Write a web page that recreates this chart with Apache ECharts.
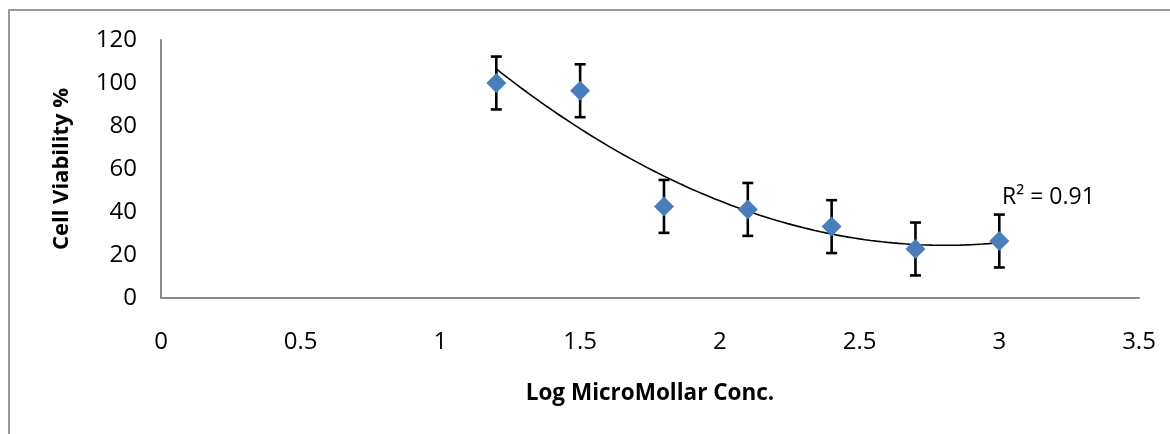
<!DOCTYPE html>
<html>
<head>
<meta charset="utf-8">
<script src="https://cdn.jsdelivr.net/npm/echarts@6/dist/echarts.min.js"></script>
<style>
  html, body { margin: 0; padding: 0; background: #fff; }
  #chart { width: 1170px; height: 434px; }
</style>
</head>
<body>
<div id="chart"></div>
<script>
// Log concentration (µM) and measured cell viability with ± error
const logConc   = [1.2, 1.5, 1.8, 2.1, 2.4, 2.7, 3.0];
const viability = [100, 96.4, 42.6, 41.2, 33.2, 22.8, 26.5];
const errorPM   = [12.3, 12.3, 12.3, 12.3, 12.3, 12.3, 12.3];
const xTicks = { min: 0, max: 3.5, interval: 0.5 };
const yTicks = { min: 0, max: 120, interval: 20 };
const xTitle = 'Log MicroMollar Conc.';
const yTitle = 'Cell Viability %';
const r2Label = 'R² = 0.91';

// Second-order polynomial least-squares fit (trendline)
function polyFit2(xs, ys) {
  let n = xs.length, s1 = 0, s2 = 0, s3 = 0, s4 = 0, t0 = 0, t1 = 0, t2 = 0;
  for (let i = 0; i < n; i++) {
    const x = xs[i], y = ys[i];
    s1 += x; s2 += x * x; s3 += x * x * x; s4 += x * x * x * x;
    t0 += y; t1 += x * y; t2 += x * x * y;
  }
  const M = [[n, s1, s2, t0], [s1, s2, s3, t1], [s2, s3, s4, t2]];
  for (let c = 0; c < 3; c++) {
    for (let r = c + 1; r < 3; r++) {
      const f = M[r][c] / M[c][c];
      for (let k = c; k < 4; k++) M[r][k] -= f * M[c][k];
    }
  }
  const b = [0, 0, 0];
  for (let r = 2; r >= 0; r--) {
    let s = M[r][3];
    for (let k = r + 1; k < 3; k++) s -= M[r][k] * b[k];
    b[r] = s / M[r][r];
  }
  return b;
}
const coef = polyFit2(logConc, viability);
const x0 = logConc[0], x1 = logConc[logConc.length - 1];
const trend = [];
for (let i = 0; i <= 90; i++) {
  const x = x0 + (x1 - x0) * i / 90;
  trend.push([x, coef[0] + coef[1] * x + coef[2] * x * x]);
}

const points = logConc.map((x, i) => [x, viability[i]]);
const bars = logConc.map((x, i) => [x, viability[i] - errorPM[i], viability[i] + errorPM[i]]);

const FONT = '"Open Sans", "Liberation Sans", sans-serif';
const chart = echarts.init(document.getElementById('chart'), null, { renderer: 'canvas' });

chart.setOption({
  animation: false,
  backgroundColor: '#ffffff',
  grid: { left: 161, top: 40, right: 31, bottom: 136, containLabel: false },
  xAxis: {
    type: 'value', min: xTicks.min, max: xTicks.max, interval: xTicks.interval,
    axisLine: { show: true, lineStyle: { color: '#8c8c8c', width: 2 } },
    axisTick: { show: false },
    splitLine: { show: false },
    axisLabel: { color: '#000', fontFamily: FONT, fontSize: 24, margin: 32 }
  },
  yAxis: {
    type: 'value', min: yTicks.min, max: yTicks.max, interval: yTicks.interval,
    axisLine: { show: true, lineStyle: { color: '#8c8c8c', width: 2 } },
    axisTick: { show: false },
    splitLine: { show: false },
    axisLabel: { color: '#000', fontFamily: FONT, fontSize: 24, margin: 24 }
  },
  graphic: [
    { type: 'rect', x: 9, y: 10, shape: { x: 0, y: 0, width: 1200, height: 500 },
      style: { fill: 'none', stroke: '#9a9a9a', lineWidth: 2 }, silent: true, z: -1 },
    { type: 'text', x: 650, y: 394,
      style: { text: xTitle, fontSize: 22.5, fontWeight: 'bold', fontFamily: FONT, fill: '#000',
               align: 'center', verticalAlign: 'middle' } },
    { type: 'text', rotation: Math.PI / 2, x: 62, y: 169,
      style: { text: yTitle, fontSize: 22, fontWeight: 'bold', fontFamily: FONT, fill: '#000',
               align: 'center', verticalAlign: 'middle' } },
    { type: 'text', x: 1002, y: 197,
      style: { text: r2Label, fontSize: 23, fontFamily: FONT, fill: '#000',
               align: 'left', verticalAlign: 'middle' } }
  ],
  series: [
    {
      type: 'line', data: trend, showSymbol: false, smooth: false,
      lineStyle: { color: '#000', width: 1.6 }, z: 2
    },
    {
      type: 'custom', data: bars, z: 3,
      renderItem: function (params, api) {
        const x = api.value(0);
        const lo = api.coord([x, api.value(1)]);
        const hi = api.coord([x, api.value(2)]);
        const w = 5.5;
        const st = { stroke: '#000', lineWidth: 2.6 };
        return {
          type: 'group',
          children: [
            { type: 'line', shape: { x1: lo[0], y1: lo[1], x2: hi[0], y2: hi[1] }, style: st },
            { type: 'line', shape: { x1: hi[0] - w, y1: hi[1], x2: hi[0] + w, y2: hi[1] }, style: st },
            { type: 'line', shape: { x1: lo[0] - w, y1: lo[1], x2: lo[0] + w, y2: lo[1] }, style: st }
          ]
        };
      }
    },
    {
      type: 'scatter', data: points, symbol: 'diamond', symbolSize: [20, 20], z: 4,
      itemStyle: { color: '#4a7ebb', opacity: 1 }
    }
  ]
});
</script>
</body>
</html>
